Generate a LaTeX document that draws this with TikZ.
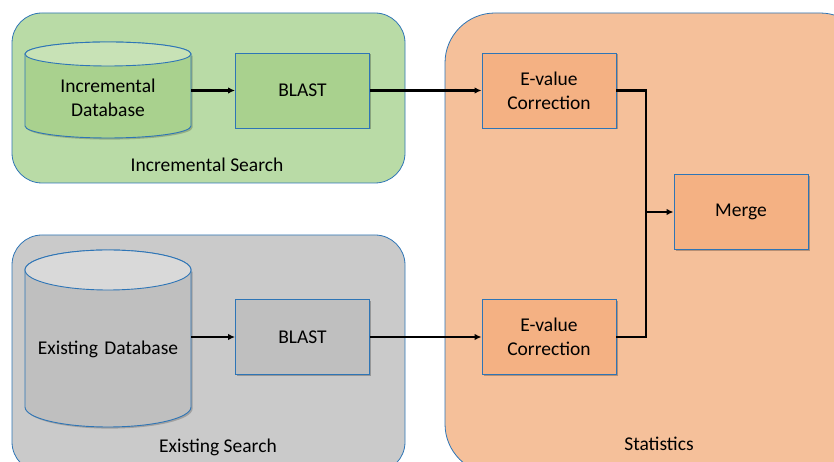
\documentclass[tikz,border=0pt]{standalone}
\usepackage{fontspec}
\setmainfont{Carlito}
\usetikzlibrary{arrows.meta,shadows}

\definecolor{edgeblue}{HTML}{2E75B6}
\definecolor{grnback}{HTML}{B9DBA6}
\definecolor{grnbox}{HTML}{A9D18E}
\definecolor{grntop}{HTML}{C8E2B6}
\definecolor{gryback}{HTML}{CACACA}
\definecolor{grybox}{HTML}{BFBFBF}
\definecolor{grytop}{HTML}{D9D9D9}
\definecolor{orgback}{HTML}{F5C09A}
\definecolor{orgbox}{HTML}{F4B183}

\tikzset{
  panel/.style={draw=edgeblue, line width=0.8pt},
  boxshadow/.style={drop shadow={shadow xshift=1.5pt, shadow yshift=-1.5pt, opacity=0.25, fill=black}},
  procbox/.style={draw=edgeblue, line width=0.9pt, minimum width=134pt, minimum height=75pt,
    inner sep=0pt, align=center, boxshadow},
  label/.style={inner sep=0pt, align=center},
  flow/.style={line width=2.2pt, black},
  flowarrow/.style={flow, -{Latex[length=7pt,width=6.5pt]}},
}

\begin{document}
\begin{tikzpicture}[x=1pt,y=1pt,font=\fontsize{19.5pt}{24pt}\selectfont]
\clip (0,0) rectangle (834,462);

% containers
\draw[panel, fill=grnback, rounded corners=30pt] (12,449) rectangle (405,279);
\draw[panel, fill=gryback, rounded corners=30pt] (12,227) rectangle (405,-10);
\draw[panel, fill=orgback, rounded corners=50pt] (445,449) rectangle (870,-12);

% incremental database cylinder
\fill[black, opacity=0.2] (26.6,406.4) -- (26.6,334.4)
  arc[start angle=180, end angle=360, x radius=83pt, y radius=12pt] -- (192.6,406.4) -- cycle;
\draw[draw=edgeblue, line width=0.9pt, fill=grnbox] (25,408) -- (25,336)
  arc[start angle=180, end angle=360, x radius=83pt, y radius=12pt] -- (191,408)
  arc[start angle=0, end angle=180, x radius=83pt, y radius=12pt] -- cycle;
\draw[draw=edgeblue, line width=0.9pt, fill=grntop] (108,408) ellipse[x radius=83pt, y radius=12pt];
\node[label, text width=166pt] (incdb) at (108,364) {Incremental\\Database};

% existing database cylinder
\fill[black, opacity=0.2] (26.6,190.4) -- (26.6,53.4)
  arc[start angle=180, end angle=360, x radius=83pt, y radius=20pt] -- (192.6,190.4) -- cycle;
\draw[draw=edgeblue, line width=0.9pt, fill=grybox] (25,192) -- (25,55)
  arc[start angle=180, end angle=360, x radius=83pt, y radius=20pt] -- (191,192)
  arc[start angle=0, end angle=180, x radius=83pt, y radius=20pt] -- cycle;
\draw[draw=edgeblue, line width=0.9pt, fill=grytop] (108,192) ellipse[x radius=83pt, y radius=20pt];
\node[label, text width=166pt] (exdb) at (108,113) {Existing Database};

% process boxes
\node[procbox, fill=grnbox] (blastinc) at (302.5,371.5) {BLAST};
\node[procbox, fill=grybox] (blastex) at (302.5,125) {BLAST};
\node[procbox, fill=orgbox] (evinc) at (549,371.5) {E-value\\Correction};
\node[procbox, fill=orgbox] (evex) at (549,125) {E-value\\Correction};
\node[procbox, fill=orgbox] (merge) at (741,250) {Merge};

% container captions
\node[label] (inccap) at (207,297) {Incremental Search};
\node[label] (excap) at (218,15) {Existing Search};
\node[label] (statcap) at (659,18) {Statistics};

% connectors
\coordinate (join) at (646,250);
\draw[flowarrow] (incdb.east |- blastinc.west) -- (blastinc.west);
\draw[flowarrow] (exdb.east |- blastex.west) -- (blastex.west);
\draw[flowarrow] (blastinc.east) -- (evinc.west);
\draw[flowarrow] (blastex.east) -- (evex.west);
\draw[flow] (evinc.east) -| (join);
\draw[flow] (evex.east) -| (join);
\draw[flowarrow] (join) -- (merge.west);
\end{tikzpicture}
\end{document}
